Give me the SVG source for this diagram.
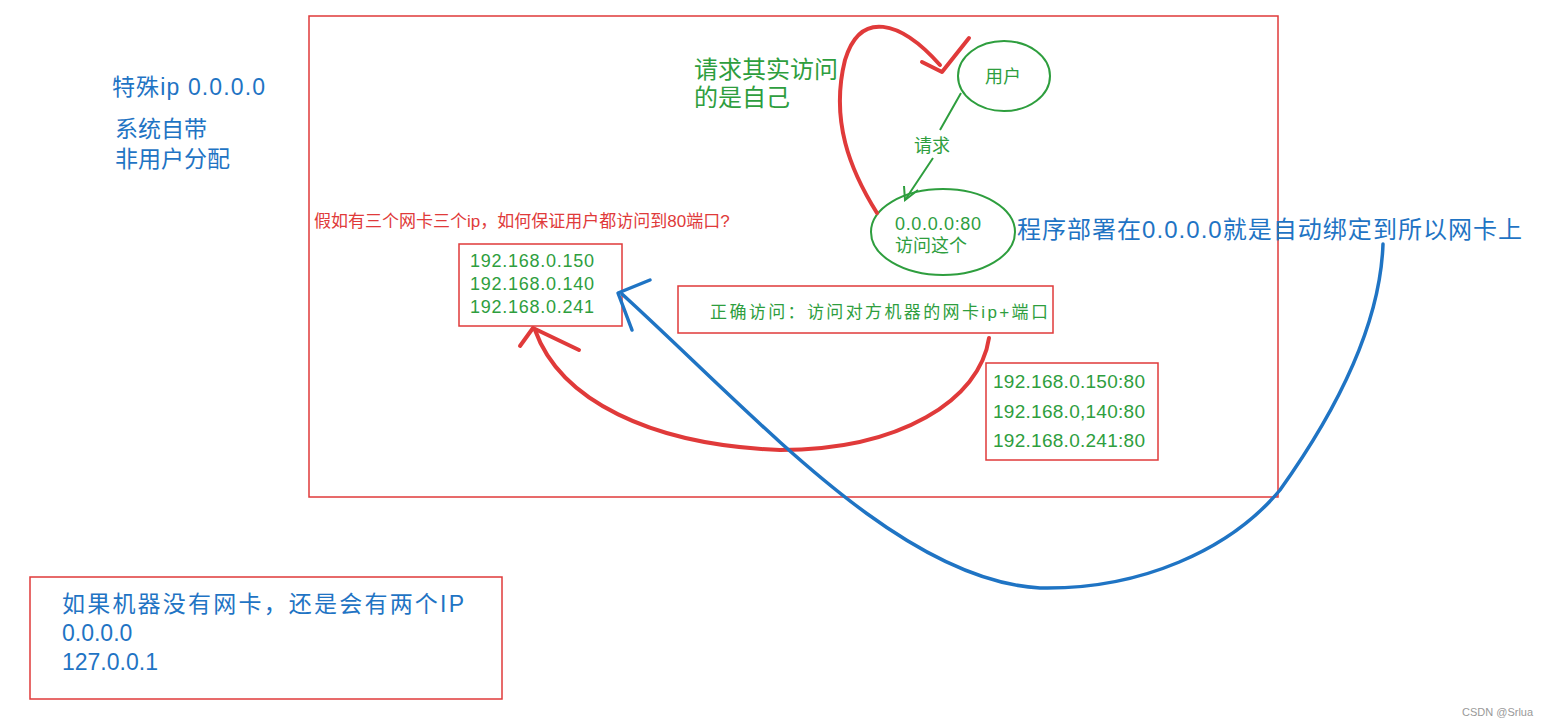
<svg xmlns="http://www.w3.org/2000/svg" width="1544" height="726" viewBox="0 0 1544 726">
<style>
.box{fill:none;stroke:#e03a3a;stroke-width:1.5}
.g{fill:#2e9e3e;font-family:"Liberation Sans","Noto Sans CJK SC",sans-serif}
.b{fill:#1f74c4;font-family:"Liberation Sans","Noto Sans CJK SC",sans-serif}
.r{fill:#e03a3a;font-family:"Liberation Sans","Noto Sans CJK SC",sans-serif}
.rs{fill:none;stroke:#e03a3a;stroke-width:4;stroke-linecap:round;stroke-linejoin:round}
.bs{fill:none;stroke:#1f74c4;stroke-width:3.5;stroke-linecap:round;stroke-linejoin:round}
.gs{fill:none;stroke:#2e9e3e;stroke-width:2}
</style>
<rect width="1544" height="726" fill="#fff"/>
<g id="frame"><rect class="box" x="309" y="16" width="969" height="481"/></g>
<g id="special"><text class="b" x="112" y="95" font-size="23" textLength="153">特殊ip 0.0.0.0</text>
<text class="b" x="115" y="137" font-size="23">系统自带</text><text class="b" x="115" y="167" font-size="23">非用户分配</text></g>
<g id="note-self"><text class="g" x="694" y="78" font-size="24">请求其实访问</text><text class="g" x="694" y="106" font-size="24">的是自己</text></g>
<g id="user"><ellipse class="gs" cx="1004" cy="76" rx="46" ry="35"/><text class="g" x="985" y="83" font-size="18">用户</text></g>
<g id="any"><ellipse class="gs" cx="943" cy="232" rx="72" ry="43"/><text class="g" x="895" y="230" font-size="18" textLength="86">0.0.0.0:80</text><text class="g" x="895" y="252" font-size="18">访问这个</text></g>
<g id="deploy"><text class="b" x="1017" y="238" font-size="24" textLength="505">程序部署在0.0.0.0就是自动绑定到所以网卡上</text></g>
<g id="q"><text class="r" x="314" y="227" font-size="17">假如有三个网卡三个ip，如何保证用户都访问到80端口?</text></g>
<g id="nics"><rect class="box" x="459" y="244" width="163" height="82"/>
<text class="g" x="470" y="267" font-size="18" textLength="124">192.168.0.150</text><text class="g" x="470" y="290" font-size="18" textLength="124">192.168.0.140</text><text class="g" x="470" y="313" font-size="18" textLength="124">192.168.0.241</text></g>
<g id="correct"><rect class="box" x="678" y="286" width="375" height="47"/><text class="g" x="710" y="318" font-size="17" textLength="338">正确访问：访问对方机器的网卡ip+端口</text></g>
<g id="ports"><rect class="box" x="986" y="363" width="172" height="97"/>
<text class="g" x="993" y="388" font-size="19" textLength="152">192.168.0.150:80</text><text class="g" x="993" y="418" font-size="19" textLength="152">192.168.0,140:80</text><text class="g" x="993" y="447" font-size="19" textLength="152">192.168.0.241:80</text></g>
<g id="nonic"><rect class="box" x="30" y="577" width="472" height="122"/>
<text class="b" x="62" y="612" font-size="23" textLength="402">如果机器没有网卡，还是会有两个IP</text><text class="b" x="62" y="641" font-size="23">0.0.0.0</text><text class="b" x="62" y="670" font-size="23">127.0.0.1</text></g>
<text x="1462" y="716" font-size="11" fill="#999" font-family="Liberation Sans,sans-serif">CSDN @Srlua</text>
<g id="connectors">
<path class="gs" d="M961 93 L940 130 M933 158 L905 200"/><path class="gs" d="M904 186 L905 200 L918 190"/>
<text class="g" x="914" y="152" font-size="18">请求</text>
<path class="rs" d="M877 213 C850 170 830 120 845 60 C860 10 900 20 940 65"/><path class="rs" d="M922 62 L942 72 L969 38"/>
<path class="rs" d="M989 338 C980 400 900 450 780 450 C650 445 560 400 535 330"/><path class="rs" d="M520 346 L533 328 L579 350"/>
<path class="bs" d="M1383 244 C1380 330 1330 420 1280 490 C1230 550 1140 590 1040 588 C900 580 760 420 622 294"/><path class="bs" d="M650 280 L618 293 L632 330"/>
</g>
</svg>
